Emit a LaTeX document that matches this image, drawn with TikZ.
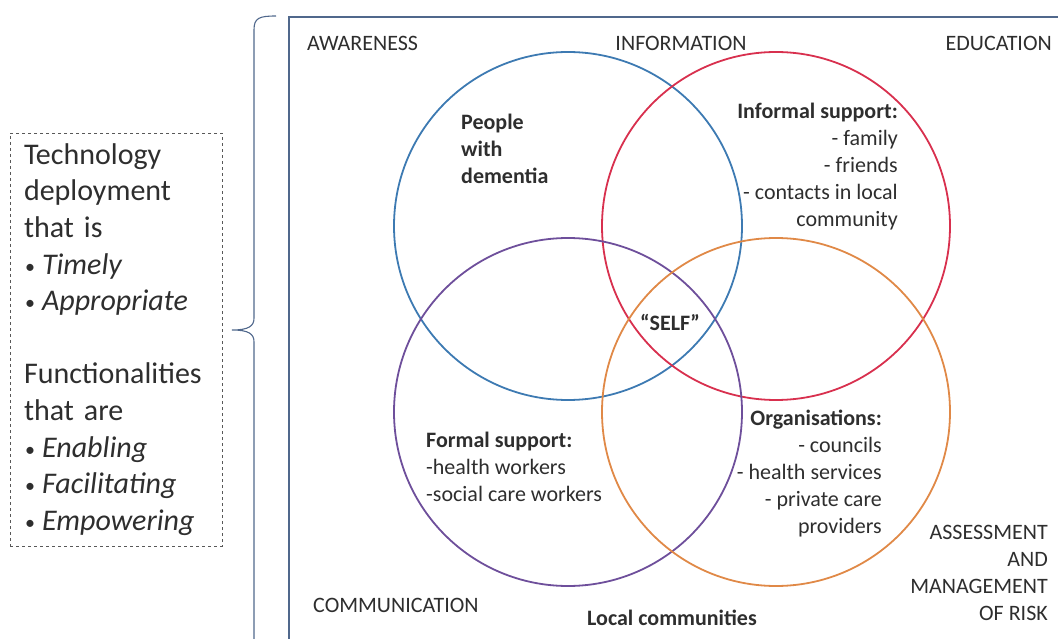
\documentclass[tikz,border=0pt]{standalone}
\usepackage{fontspec}
\setmainfont{Carlito}
\newcommand{\smbul}{\makebox[18pt][l]{\hspace{1pt}\fontsize{20}{0}\selectfont\raisebox{1pt}{•}}}
\begin{document}
\begin{tikzpicture}[x=1pt,y=-1pt,
  ring/.style={circle,draw,line width=1.8pt,minimum size=348pt,inner sep=0pt},
  lbl/.style={inner sep=0pt,text=txt,font=\fontsize{22}{27}\selectfont},
  blbl/.style={lbl,font=\fontsize{22}{27}\selectfont\bfseries},
  framecol/.style={draw=frame,line width=1.8pt}]
\definecolor{frame}{HTML}{50688C}
\definecolor{txt}{HTML}{2E2E2E}
\definecolor{cblue}{HTML}{3D7AB2}
\definecolor{cred}{HTML}{D8304E}
\definecolor{cpurple}{HTML}{6E4F9B}
\definecolor{corange}{HTML}{E08947}
\useasboundingbox (0,0) rectangle (1058,639);
\clip (0,0) rectangle (1058,639);
% frame
\draw[framecol] (1070,17) -- (289,17) -- (289,650);
% brace
\draw[draw=frame,line width=1.1pt] (276,16) .. controls (259,16) and (254,18) .. (254,30)
  -- (254,318) .. controls (254,326) and (249,330) .. (232,330)
  .. controls (249,330) and (254,334) .. (254,342) -- (254,650);
% left box
\node[draw=txt!80,dashed,line width=0.8pt,minimum width=212pt,minimum height=413pt,
  inner sep=0pt,text width=184pt,align=left,text=txt,
  font=\fontsize{30}{36.6}\selectfont] (box) at (116,339.5)
  {Technology\\deployment\\that is\\\smbul\textit{Timely}\\\smbul\textit{Appropriate}\\[36.6pt]
   Functionalities\\that are\\\smbul\textit{Enabling}\\\smbul\textit{Facilitating}\\\smbul\textit{Empowering}};
% circles
\node[ring,draw=cblue] (cb) at (568,226) {};
\node[ring,draw=cred] (cr) at (776,226) {};
\node[ring,draw=cpurple] (cp) at (568,412) {};
\node[ring,draw=corange] (co) at (776,412) {};
% corner labels
\node[lbl,anchor=west] (aw) at (307,43) {AWARENESS};
\node[lbl] (inf) at (681,43) {INFORMATION};
\node[lbl,anchor=east] (edu) at (1052,43) {EDUCATION};
\node[lbl,anchor=west] (com) at (313,605) {COMMUNICATION};
\node[lbl,anchor=east,align=right] (ass) at (1048,573) {ASSESSMENT\\AND\\MANAGEMENT\\OF RISK};
\node[blbl] (loc) at (672,618) {Local communities};
% group labels
\node[blbl,anchor=west,align=left] (ppl) at (461,148.5) {People\\with\\dementia};
\node[lbl,anchor=east,align=right] (ifs) at (898,167) {\textbf{Informal support:}\\- family\\- friends\\- contacts in local\\community};
\node[blbl] (self) at (670,322) {“SELF”};
\node[lbl,anchor=west,align=left] (fs) at (426,467) {\textbf{Formal support:}\\-health workers\\-social care workers};
\node[lbl,anchor=east,align=right] (org) at (882,473.5) {\textbf{Organisations:}\\- councils\\- health services\\- private care\\providers};
\end{tikzpicture}
\end{document}
